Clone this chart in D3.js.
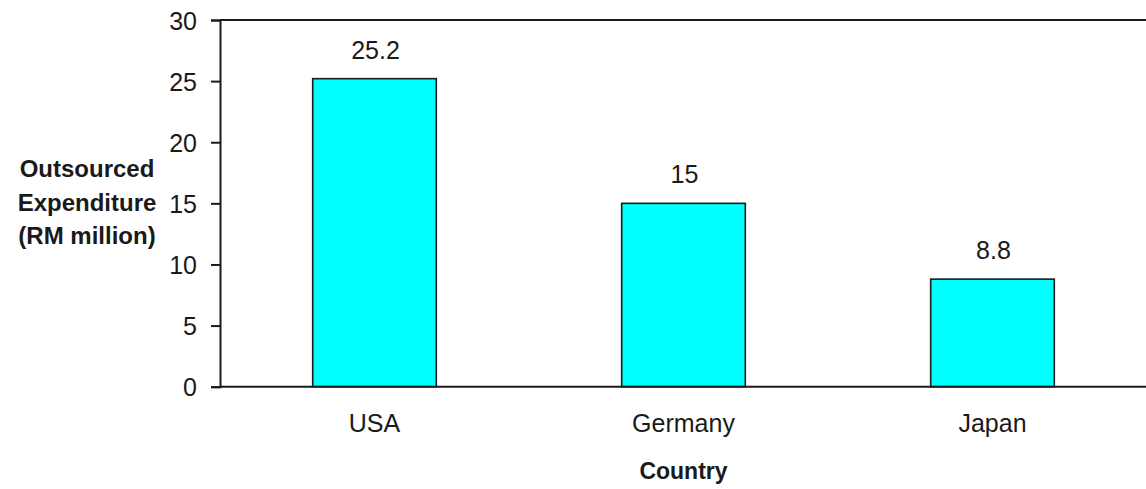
<!DOCTYPE html>
<html>
<head>
<meta charset="utf-8">
<script src="https://cdn.jsdelivr.net/npm/d3@7"></script>
<style>
  html, body { margin: 0; padding: 0; background: #fff; }
  svg { display: block; }
  text { font-family: "Liberation Sans", Arial, sans-serif; fill: #1a1a1a; }
</style>
</head>
<body>
<svg id="chart" width="1146" height="489"></svg>
<script>
// Outsourced expenditure by country (RM million)
const countries = ["USA", "Germany", "Japan"];
const expenditure = [25.2, 15, 8.8];
const yTicks = [0, 5, 10, 15, 20, 25, 30];
const yTitleLines = ["Outsourced", "Expenditure", "(RM million)"];
const xTitle = "Country";

const svg = d3.select("#chart");
const plotLeft = 220, plotRight = 1147, plotTop = 20, plotBottom = 386.7;
const ink = "#1a1a1a";

const x = d3.scaleBand()
  .domain(countries)
  .range([plotLeft, plotRight])
  .paddingInner(0.6)
  .paddingOuter(0.3);

const y = d3.scaleLinear().domain([0, 30]).range([plotBottom, plotTop]);

// Bars
svg.append("g").selectAll("rect")
  .data(countries)
  .join("rect")
  .attr("x", d => x(d))
  .attr("y", (d, i) => y(expenditure[i]))
  .attr("width", x.bandwidth())
  .attr("height", (d, i) => y(0) - y(expenditure[i]))
  .attr("fill", "#00ffff")
  .attr("stroke", ink)
  .attr("stroke-width", 1.6);

// Value labels above bars
svg.append("g").selectAll("text")
  .data(countries)
  .join("text")
  .attr("x", d => x(d) + x.bandwidth() / 2 + 1)
  .attr("y", (d, i) => y(expenditure[i]) - 20)
  .attr("text-anchor", "middle")
  .attr("font-size", 25)
  .text((d, i) => expenditure[i]);

// Top and bottom frame lines
svg.append("line")
  .attr("x1", plotLeft).attr("x2", 1146).attr("y1", plotTop).attr("y2", plotTop)
  .attr("stroke", ink).attr("stroke-width", 2);
svg.append("line")
  .attr("x1", plotLeft).attr("x2", 1146).attr("y1", plotBottom).attr("y2", plotBottom)
  .attr("stroke", ink).attr("stroke-width", 2);

// Y axis
const yAxis = svg.append("g")
  .attr("transform", `translate(${plotLeft},0)`)
  .call(d3.axisLeft(y).tickValues(yTicks).tickSize(9).tickPadding(14).tickFormat(d3.format("d")));
yAxis.select(".domain").attr("stroke", ink).attr("stroke-width", 2);
yAxis.selectAll(".tick line").attr("stroke", ink).attr("stroke-width", 2);
yAxis.selectAll(".tick text")
  .attr("font-size", 25)
  .attr("font-family", "Liberation Sans, Arial, sans-serif")
  .attr("fill", ink)
  .attr("dy", "0.36em");

// X category labels
const xAxis = svg.append("g")
  .attr("transform", `translate(0,${plotBottom})`)
  .call(d3.axisBottom(x).tickSize(0).tickPadding(0));
xAxis.select(".domain").remove();
xAxis.selectAll(".tick text")
  .attr("font-size", 25)
  .attr("font-family", "Liberation Sans, Arial, sans-serif")
  .attr("fill", ink)
  .attr("dy", 0)
  .attr("y", 45);

// Axis titles
svg.append("text")
  .attr("x", (plotLeft + plotRight) / 2)
  .attr("y", 479)
  .attr("text-anchor", "middle")
  .attr("font-size", 23)
  .attr("font-weight", "bold")
  .text(xTitle);

svg.append("g").selectAll("text")
  .data(yTitleLines)
  .join("text")
  .attr("x", 87)
  .attr("y", (d, i) => 177 + i * 33.5)
  .attr("text-anchor", "middle")
  .attr("font-size", 24)
  .attr("font-weight", "bold")
  .text(d => d);
</script>
</body>
</html>
